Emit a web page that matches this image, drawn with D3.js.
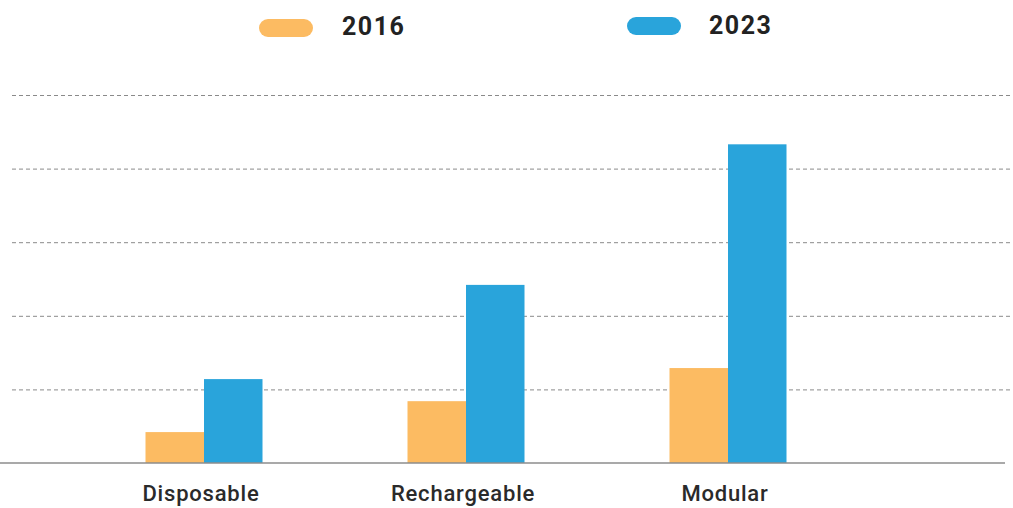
<!DOCTYPE html>
<html><head><meta charset="utf-8">
<script src="https://cdn.jsdelivr.net/npm/d3@7"></script>
<style>body{margin:0;background:#fff}svg{display:block}</style>
</head><body><svg id="c" width="1013" height="508"></svg>
<script>
const categories = ["Disposable", "Rechargeable", "Modular"];
const seriesNames = ["2016", "2023"];
const values2016 = [0.42, 0.84, 1.29];
const values2023 = [1.14, 2.42, 4.33];
const gridTicks = [1, 2, 3, 4, 5];
const colors = ["#FCBB62", "#29A4DB"];

const svg = d3.select("#c");
const y = d3.scaleLinear().domain([0, 5]).range([463, 95]);
const x = d3.scalePoint().domain(categories).range([73, 859]).padding(0.5);
const sub = d3.scaleBand().domain(seriesNames).range([-58.5, 58.5]);

// grid
svg.append("g").selectAll("line").data(gridTicks).join("line")
  .attr("x1", 12).attr("x2", 1010)
  .attr("y1", d => y(d) + 0.5).attr("y2", d => y(d) + 0.5)
  .attr("stroke", "#8a8a8a").attr("stroke-width", 1).attr("stroke-dasharray", "4,3");

// bars
const data = categories.map((c, i) => ({c, vals: [values2016[i], values2023[i]]}));
const g = svg.append("g").selectAll("g").data(data).join("g")
  .attr("transform", d => `translate(${x(d.c)},0)`);
g.selectAll("rect").data(d => d.vals.map((v, j) => ({v, s: seriesNames[j], j}))).join("rect")
  .attr("x", d => sub(d.s)).attr("width", sub.bandwidth())
  .attr("y", d => y(d.v)).attr("height", d => y(0) - y(d.v))
  .attr("fill", d => colors[d.j]);

// baseline
svg.append("line").attr("x1", 0).attr("x2", 1005).attr("y1", y(0)).attr("y2", y(0))
  .attr("stroke", "#8c8c8c").attr("stroke-width", 1.5);

// x labels
svg.append("g").selectAll("text").data(categories).join("text")
  .attr("x", d => x(d) - 3).attr("y", 501)
  .attr("text-anchor", "middle")
  .attr("font-family", "Roboto, 'Noto Sans', sans-serif").attr("font-size", 22).attr("font-weight", 500)
  .attr("letter-spacing", 0.8)
  .attr("fill", "#2a2a2a").text(d => d);

// legend
const legendPos = [{px: 259, py: 19, tx: 342, ty: 35}, {px: 627, py: 17, tx: 709, ty: 34}];
const lg = svg.append("g").selectAll("g").data(seriesNames).join("g");
lg.append("rect").attr("x", (d, i) => legendPos[i].px).attr("y", (d, i) => legendPos[i].py)
  .attr("width", 54).attr("height", 18).attr("rx", 9).attr("fill", (d, i) => colors[i]);
lg.append("text").attr("x", (d, i) => legendPos[i].tx).attr("y", (d, i) => legendPos[i].ty)
  .attr("font-family", "Roboto, 'Noto Sans', sans-serif").attr("font-size", 25).attr("font-weight", 700)
  .attr("letter-spacing", 1.5)
  .attr("fill", "#222").text(d => d);
</script></body></html>
